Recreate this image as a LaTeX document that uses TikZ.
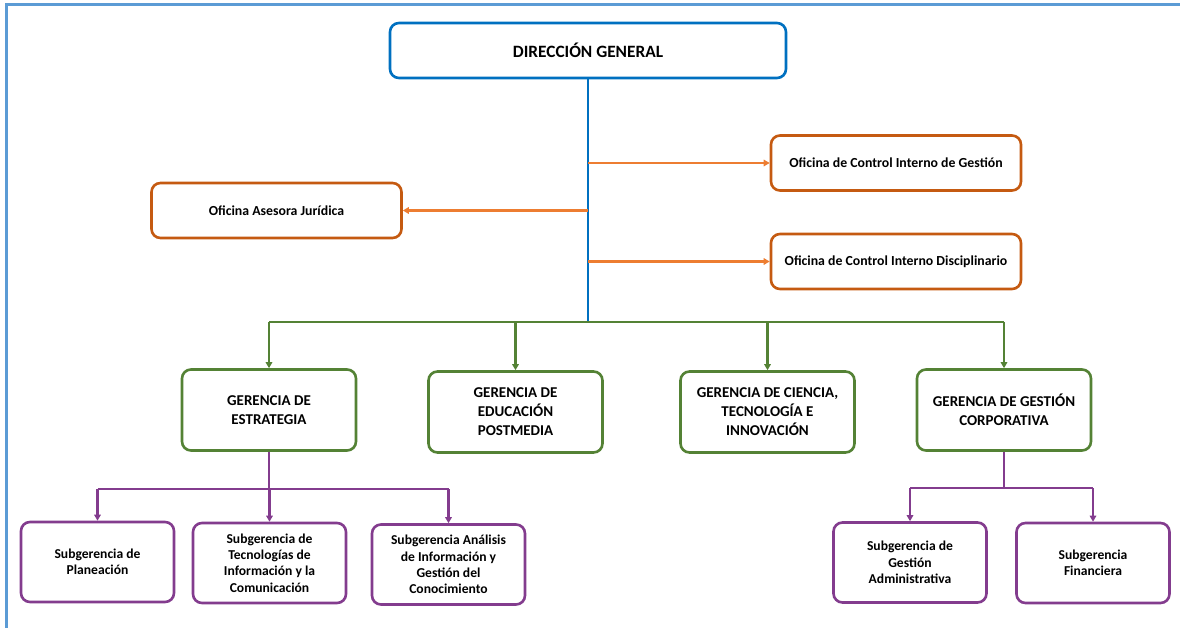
\documentclass[tikz,border=0pt]{standalone}
\usepackage{fontspec}
\setmainfont{Carlito}
\usepackage{xcolor}
\usetikzlibrary{arrows.meta,positioning}

\definecolor{framecol}{HTML}{5B9BD5}
\definecolor{dirblue}{HTML}{0070C0}
\definecolor{ofiorange}{HTML}{C55A11}
\definecolor{lineorange}{HTML}{ED7D31}
\definecolor{gergreen}{HTML}{548235}
\definecolor{subpurple}{HTML}{833C8E}

\tikzset{
  box/.style={rectangle,rounded corners=9pt,line width=2.6pt,fill=white,
    align=center,inner sep=2pt,font=\bfseries},
  dirbox/.style={box,draw=dirblue,minimum width=396pt,minimum height=55pt,
    font=\bfseries\fontsize{17.3}{20}\selectfont},
  ofibox/.style={box,draw=ofiorange,minimum width=250pt,minimum height=55pt,
    font=\bfseries\fontsize{13.8}{16}\selectfont},
  gerbox/.style={box,draw=gergreen,minimum width=174pt,minimum height=81pt,
    font=\bfseries\fontsize{15}{19}\selectfont},
  subbox/.style={box,draw=subpurple,minimum width=153pt,minimum height=80pt,
    font=\bfseries\fontsize{13.6}{16.3}\selectfont},
  tip/.style={-{Triangle[length=6pt,width=6.5pt]}},
  blueline/.style={draw=dirblue,line width=2.8pt},
  orangearrow/.style={draw=lineorange,line width=2.5pt,tip},
  greenline/.style={draw=gergreen,line width=2.5pt},
  purpleline/.style={draw=subpurple,line width=2.5pt}
}

\begin{document}
\begin{tikzpicture}[x=1pt,y=-1pt]
\useasboundingbox (0,0) rectangle (1180,628);
% frame
\draw[framecol,line width=3pt] (6,628) -- (6,5) -- (1180,5);

% top level
\node[dirbox] (dir) at (588,50.5) {DIRECCIÓN GENERAL};

% offices
\node[ofibox] (ofigestion) at (896,163) {Oficina de Control Interno de Gestión};
\node[ofibox] (ofijuridica) at (276.5,210.5) {Oficina Asesora Jurídica};
\node[ofibox] (ofidisc) at (896,261.5) {Oficina de Control Interno Disciplinario};

% gerencias
\node[gerbox] (gerestr) at (269,410) {GERENCIA DE\\ESTRATEGIA};
\node[gerbox] (gereduc) at (515.5,412) {GERENCIA DE\\EDUCACIÓN\\POSTMEDIA};
\node[gerbox] (gercien) at (767.5,412) {GERENCIA DE CIENCIA,\\TECNOLOGÍA E\\INNOVACIÓN};
\node[gerbox] (gercorp) at (1004,410) {GERENCIA DE GESTIÓN\\CORPORATIVA};

% subgerencias
\node[subbox] (subplan) at (97.5,562) {Subgerencia de\\Planeación};
\node[subbox] (subtic) at (269.5,563) {Subgerencia de\\Tecnologías de\\Información y la\\Comunicación};
\node[subbox] (subanal) at (448.5,564.5) {Subgerencia Análisis\\de Información y\\Gestión del\\Conocimiento};
\node[subbox] (subadm) at (910,562.5) {Subgerencia de\\Gestión\\Administrativa};
\node[subbox] (subfin) at (1093,563) {Subgerencia\\Financiera};

% connectors
\coordinate (bus) at (588,322);
\coordinate (estrbus) at (269,489);
\coordinate (corpbus) at (1004,488);

\draw[blueline] (dir.south) -- (bus);
\draw[orangearrow] (dir.south |- ofigestion.west) -- (ofigestion.west);
\draw[orangearrow] (dir.south |- ofijuridica.east) -- (ofijuridica.east);
\draw[orangearrow] (dir.south |- ofidisc.west) -- (ofidisc.west);

\draw[greenline] (gerestr.north |- bus) -- (gercorp.north |- bus);
\foreach \g in {gerestr,gereduc,gercien,gercorp}
  \draw[greenline,tip] (\g.north |- bus) -- (\g.north);

\draw[purpleline] (gerestr.south) -- (estrbus);
\draw[purpleline] (subplan.north |- estrbus) -- (subanal.north |- estrbus);
\foreach \s in {subplan,subtic,subanal}
  \draw[purpleline,tip] (\s.north |- estrbus) -- (\s.north);

\draw[purpleline] (gercorp.south) -- (corpbus);
\draw[purpleline] (subadm.north |- corpbus) -- (subfin.north |- corpbus);
\foreach \s in {subadm,subfin}
  \draw[purpleline,tip] (\s.north |- corpbus) -- (\s.north);
\end{tikzpicture}
\end{document}
